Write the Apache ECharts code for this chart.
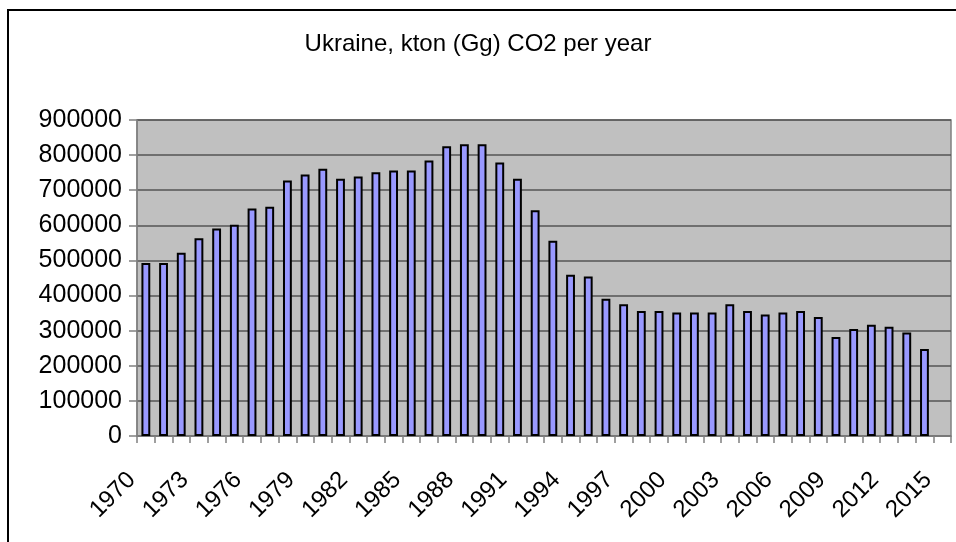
<!DOCTYPE html>
<html>
<head>
<meta charset="utf-8">
<script src="https://cdn.jsdelivr.net/npm/echarts@6/dist/echarts.min.js"></script>
<style>
html,body{margin:0;padding:0;background:#fff;}
#chart{width:956px;height:542px;}
</style>
</head>
<body>
<div id="chart"></div>
<script>
const titleText = "Ukraine, kton (Gg) CO2 per year";
const years = ["1970","1971","1972","1973","1974","1975","1976","1977","1978","1979",
  "1980","1981","1982","1983","1984","1985","1986","1987","1988","1989",
  "1990","1991","1992","1993","1994","1995","1996","1997","1998","1999",
  "2000","2001","2002","2003","2004","2005","2006","2007","2008","2009",
  "2010","2011","2012","2013","2014","2015"];
const co2 = [493000,493000,522000,563000,591000,602000,648000,653000,728000,745000,
  761000,733000,739000,751000,756000,756000,785000,825000,831000,831000,
  779000,733000,643000,556000,459000,454000,391000,375000,356000,356000,
  352000,352000,352000,375000,356000,346000,352000,356000,339000,282000,
  305000,317000,311000,295000,248000];
const yMin = 0, yMax = 900000, yStep = 100000;

const chart = echarts.init(document.getElementById('chart'), null, {renderer:'canvas'});
const font = '"Liberation Sans", Arial, sans-serif';
chart.setOption({
  backgroundColor: '#ffffff',
  animation: false,
  title: {
    text: titleText,
    left: 'center',
    top: 27,
    textStyle: {fontFamily: font, fontSize: 24, fontWeight: 'normal', color: '#000'}
  },
  graphic: [{
    type: 'rect',
    shape: {x: 8, y: 10, width: 970, height: 560},
    style: {fill: 'none', stroke: '#000', lineWidth: 2},
    silent: true, z: 100
  }],
  grid: {left: 137, right: 5, top: 120, bottom: 106, show: true,
    backgroundColor: '#c0c0c0', borderColor: '#808080', borderWidth: 1.5},
  xAxis: {
    type: 'category',
    data: years,
    boundaryGap: true,
    axisLine: {lineStyle: {color: '#808080', width: 1.5}},
    axisTick: {show: true, interval: 0, length: 7, lineStyle: {color: '#808080', width: 1.5}},
    axisLabel: {interval: 2, rotate: 45, margin: 26, padding: [0, 20, 0, 0],
      fontFamily: font, fontSize: 24, color: '#000'},
    splitLine: {show: false}
  },
  yAxis: {
    type: 'value',
    min: yMin, max: yMax, interval: yStep,
    axisLine: {show: true, lineStyle: {color: '#808080', width: 1.5}},
    axisTick: {show: true, length: 8, lineStyle: {color: '#808080', width: 1.5}},
    axisLabel: {margin: 15, fontFamily: font, fontSize: 25, color: '#000',
      formatter: function (v) { return String(v); }},
    splitLine: {show: true, lineStyle: {color: '#555555', width: 1.5}}
  },
  series: [{
    type: 'bar',
    data: co2,
    barWidth: '50%',
    itemStyle: {color: '#9999ff', borderColor: '#000', borderWidth: 2}
  }]
});
</script>
</body>
</html>
